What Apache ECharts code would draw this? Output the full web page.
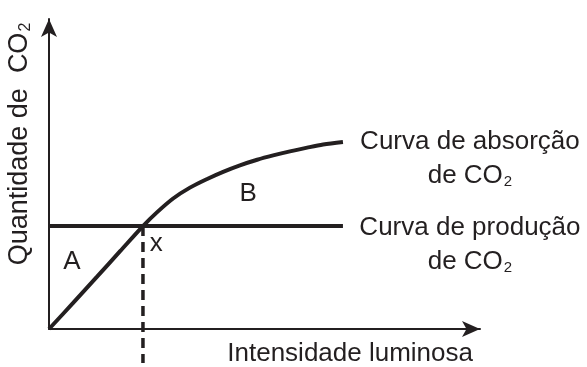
<!DOCTYPE html>
<html>
<head>
<meta charset="utf-8">
<script src="https://cdn.jsdelivr.net/npm/echarts@6/dist/echarts.min.js"></script>
<style>
html, body { margin: 0; padding: 0; background: #fff; }
#chart { width: 587px; height: 367px; }
</style>
</head>
<body>
<div id="chart"></div>
<script>
// curva de absorção (x, y) em unidades relativas 0-100
const absorcaoX = [0, 5.6, 11.1, 16.5, 21.8, 25.1, 28.8, 32.7, 36.7, 40.4, 44.3, 48.3, 52.0, 55.9, 59.9, 63.6, 68.2]
const absorcaoY = [0, 8.4, 16.8, 25.1, 33.2, 37.7, 42.1, 45.6, 48.4, 50.7, 52.8, 54.6, 56.0, 57.3, 58.5, 59.5, 60.3]
// curva de produção (horizontal)
const producaoX = [0, 68.2]
const producaoY = [33.2, 33.2]
// ponto x (compensação) - tracejado até abaixo do eixo
const tracejadoX = [21.8, 21.8]
const tracejadoY = [33.2, -11.0]
// letras das regiões
const letras = ['A', 'B', 'x']
const letrasX = [5.3, 46.2, 24.9]
const letrasY = [21.6, 43.7, 27.4]

const cor = '#231f20'
const fonte = "'Liberation Sans', Arial, sans-serif"
const rich = {
    t: { fontSize: 26, color: cor, fontFamily: fonte, lineHeight: 34 },
    sub: { fontSize: 15, color: cor, fontFamily: fonte, padding: [12, 0, 0, 1] }
}
const richY = {
    t: { fontSize: 27, color: cor, fontFamily: fonte },
    sub: { fontSize: 16, color: cor, fontFamily: fonte, padding: [13, 0, 0, 1] }
}

const zip = (xs, ys) => xs.map((x, i) => [x, ys[i]])

const chart = echarts.init(document.getElementById('chart'))
chart.setOption({
    animation: false,
    grid: { left: 49, right: 107, top: 19, bottom: 38, outerBoundsMode: 'none' },
    xAxis: {
        type: 'value',
        min: 0,
        max: 100,
        name: 'Intensidade luminosa',
        nameLocation: 'end',
        nameGap: -7,
        nameTextStyle: {
            color: cor,
            fontSize: 26,
            fontFamily: fonte,
            align: 'right',
            verticalAlign: 'top',
            padding: [12, 0, 0, 0]
        },
        axisLine: {
            show: true,
            symbol: ['none', 'arrow'],
            symbolSize: [12, 18],
            lineStyle: { color: cor, width: 2 }
        },
        axisTick: { show: false },
        axisLabel: { show: false },
        splitLine: { show: false }
    },
    yAxis: {
        type: 'value',
        min: 0,
        max: 100,
        name: '{t|Quantidade de  CO}{sub|2}',
        nameLocation: 'middle',
        nameGap: 15,
        nameTextStyle: {
            rich: richY,
            padding: [0, 0, 0, 60]
        },
        axisLine: {
            show: true,
            symbol: ['none', 'arrow'],
            symbolSize: [12, 18],
            lineStyle: { color: cor, width: 2 }
        },
        axisTick: { show: false },
        axisLabel: { show: false },
        splitLine: { show: false }
    },
    series: [
        {
            name: 'absorção',
            type: 'line',
            smooth: 0.3,
            symbol: 'none',
            data: zip(absorcaoX, absorcaoY),
            lineStyle: { color: cor, width: 4 },
            endLabel: {
                show: true,
                formatter: '{t|Curva de absorção}\n{t|de CO}{sub|2}',
                align: 'center',
                verticalAlign: 'middle',
                distance: 0,
                offset: [127, 17],
                rich: rich
            }
        },
        {
            name: 'produção',
            type: 'line',
            symbol: 'none',
            data: zip(producaoX, producaoY),
            lineStyle: { color: cor, width: 4 },
            endLabel: {
                show: true,
                formatter: '{t|Curva de produção}\n{t|de CO}{sub|2}',
                align: 'center',
                verticalAlign: 'middle',
                distance: 0,
                offset: [127, 19],
                rich: rich
            }
        },
        {
            name: 'tracejado',
            type: 'line',
            symbol: 'none',
            clip: false,
            data: zip(tracejadoX, tracejadoY),
            lineStyle: { color: cor, width: 3.5, type: [10, 6] }
        },
        {
            name: 'letras',
            type: 'scatter',
            symbolSize: 0,
            itemStyle: { opacity: 1 },
            data: letras.map((l, i) => ({ name: l, value: [letrasX[i], letrasY[i]] })),
            label: {
                show: true,
                position: 'inside',
                formatter: '{b}',
                color: cor,
                opacity: 1,
                fontSize: 26,
                fontFamily: fonte
            }
        }
    ]
})
</script>
</body>
</html>
